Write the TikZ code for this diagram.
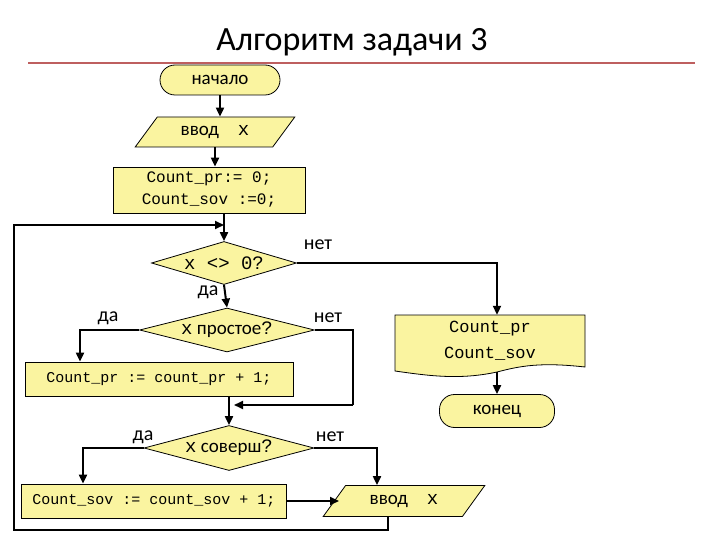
\documentclass[tikz,border=0pt]{standalone}
\usepackage{fontspec}
\setmainfont{Carlito}
\newfontfamily\mon{Liberation Mono}
\usetikzlibrary{shapes.geometric,arrows.meta}
\definecolor{fillc}{RGB}{250,244,160}
\definecolor{linec}{RGB}{190,95,95}
\begin{document}
\begin{tikzpicture}[x=1pt,y=-1pt,
  shp/.style={draw=black,fill=fillc,line width=0.8pt,inner sep=0pt,font=\fontsize{19}{21}\selectfont},
  term/.style={shp,rounded corners=15pt,minimum height=30pt},
  inp/.style={shp,trapezium,trapezium left angle=45,trapezium right angle=135,trapezium stretches=true,minimum height=30pt},
  proc/.style={shp,rectangle},
  dec/.style={shp,diamond,aspect=3.5},
  arr/.style={line width=2pt,-{Triangle[length=9pt,width=8pt]}},
  ln/.style={line width=2pt},
  lab/.style={font=\fontsize{20}{22}\selectfont}]
\useasboundingbox (0,0) rectangle (720,540);
\fill[white] (0,0) rectangle (720,540);
\node[font=\fontsize{34}{36}\selectfont] (title) at (352,42) {Алгоритм задачи 3};
\draw[linec,line width=2pt] (28,63) -- (695,63);

\node[term,minimum width=120pt] (start) at (220,80) {начало};
\node[inp,minimum width=160pt] (in1) at (215,132) {ввод\quad{\mon x}};
\node[proc,minimum width=192pt,minimum height=46pt,align=center,font=\mon\fontsize{16}{22}\selectfont] (init) at (209,190) {Count\_pr:= 0;\\Count\_sov :=0;};
\node[dec,minimum width=145pt,minimum height=43pt] (d1) at (224,263) {{\mon x <> 0?}};
\node[dec,minimum width=175pt,minimum height=44pt] (d2) at (227,330) {{\mon x} простое{\mon ?}};
\node[proc,minimum width=268pt,minimum height=34pt,font=\mon\fontsize{15}{17}\selectfont] (inc1) at (159,379) {Count\_pr := count\_pr + 1;};
\node[dec,minimum width=170pt,minimum height=45pt] (d3) at (229,448) {{\mon x} соверш{\mon ?}};
\node[proc,minimum width=265pt,minimum height=34pt,font=\mon\fontsize{15}{17}\selectfont] (inc2) at (154,501) {Count\_sov := count\_sov + 1;};
\node[inp,minimum width=162pt,minimum height=31pt] (in2) at (404,501) {ввод\quad{\mon x}};

% document shape
\node[minimum width=190pt,minimum height=60pt,inner sep=0pt] (out) at (490,345) {};
\draw[shp] (395,315) -- (585,315) -- (585,367) .. controls (540,362) and (520,366) .. (497,372) .. controls (460,380) and (430,376) .. (395,371) -- cycle;
\node[align=center,font=\mon\fontsize{17}{26}\selectfont] (outt) at (490,341) {Count\_pr\\Count\_sov};
\node[term,minimum width=115pt,minimum height=33pt] (end) at (497,411) {конец};

\draw[arr] (start.south) -- (start.south|-in1.north);
\draw[arr] (in1.south) -- (in1.south|-init.north);
\draw[arr] (init.south-|d1.north) -- (d1.north);
\draw[arr] (d1.east) -| (out.north-|end.north);
\draw[arr] (d1.south) -- (d2.north);
\draw[arr] (d2.west) -| (80,0|-inc1.north);
\draw[ln] (d2.east) -| (353,405);
\draw[arr] (353,405) -- (234,405);
\draw[arr] (inc1.south-|d3.north) -- (d3.north);
\draw[arr] (d3.west) -| (83,0|-inc2.north);
\draw[arr] (d3.east) -| (377,0|-in2.north);
\draw[arr] (inc2.east) -- (339,0|-inc2.east);
\draw[arr] (end.north|-0,372) -- (end.north);
\draw[arr] (388,516) -- (388,530) -- (14,530) -- (14,225) -- (d1.north|-0,225);

\node[lab] (n1) at (318,245) {нет};
\node[lab] (y1) at (208,292) {да};
\node[lab] (y2) at (108,318) {да};
\node[lab] (n2) at (328,318) {нет};
\node[lab] (y3) at (143,437) {да};
\node[lab] (n3) at (330,437) {нет};
\end{tikzpicture}
\end{document}
